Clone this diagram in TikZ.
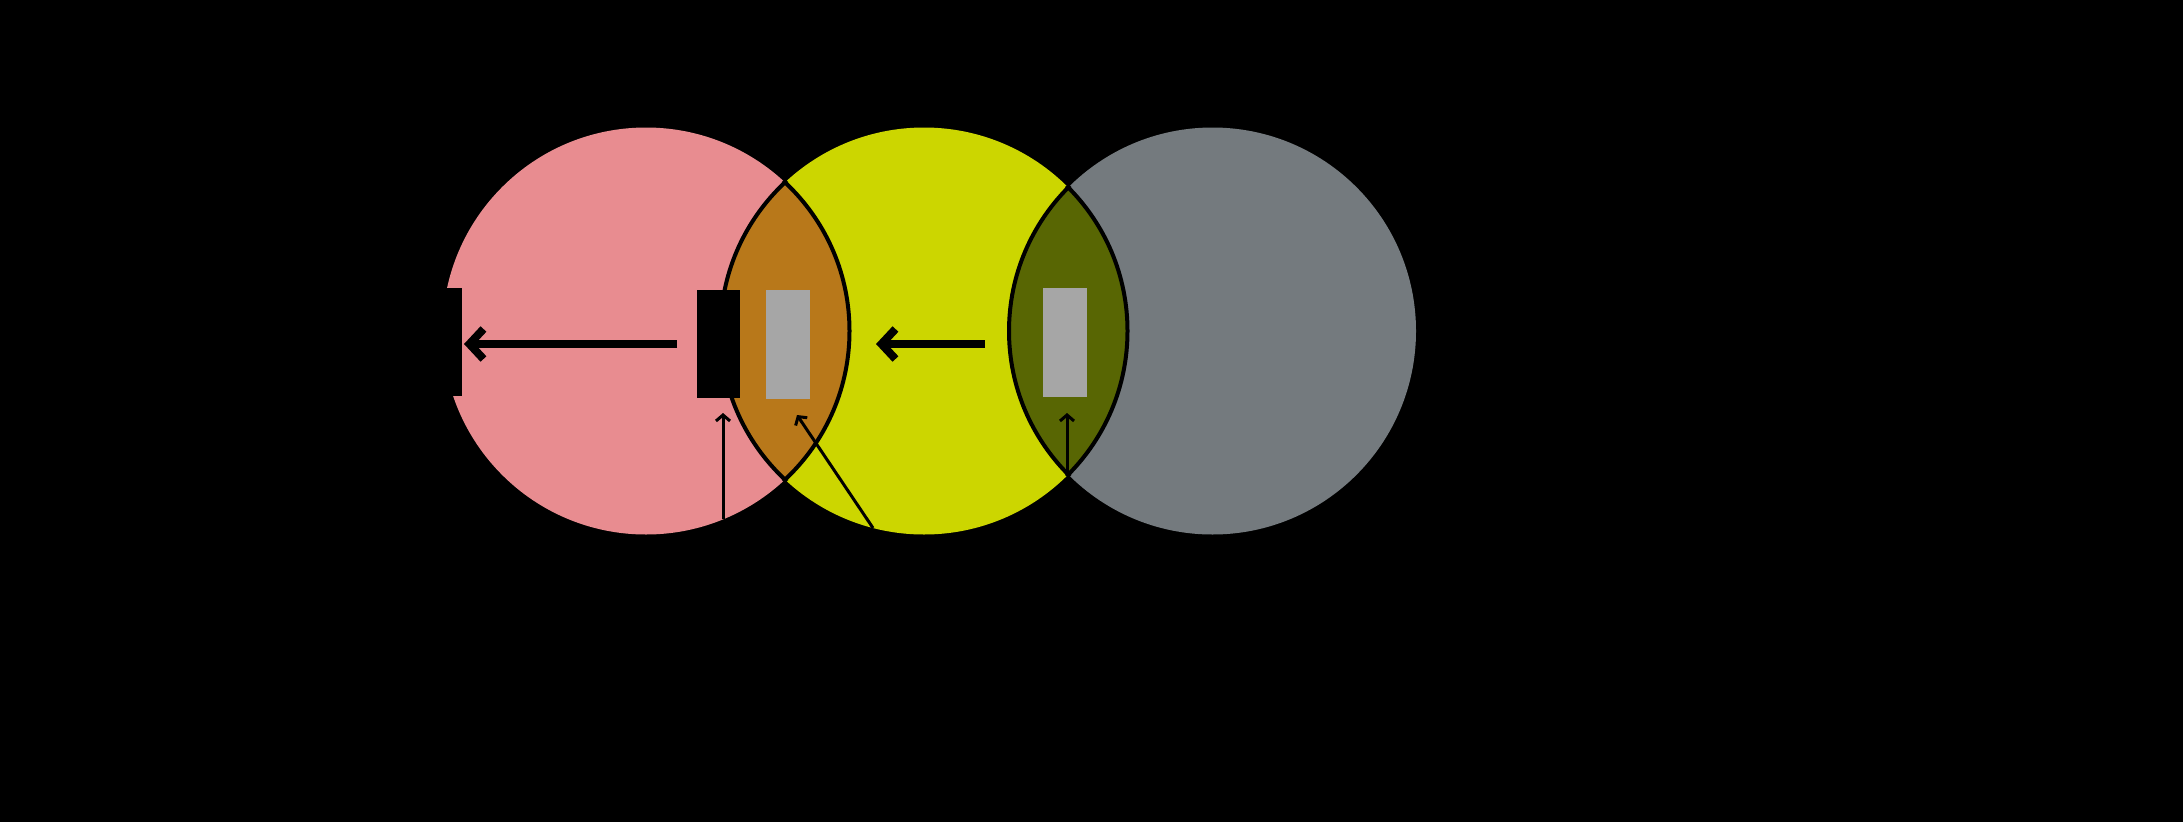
\documentclass[tikz,border=0pt]{standalone}
\usetikzlibrary{arrows.meta}
\definecolor{pinkc}{RGB}{232,140,144}
\definecolor{yellowc}{RGB}{204,214,0}
\definecolor{grayc}{RGB}{116,122,126}
\definecolor{lensA}{RGB}{184,120,26}
\definecolor{lensB}{RGB}{88,102,3}
\definecolor{boxgray}{RGB}{166,166,166}
\tikzset{
  blackbox/.style={rectangle, fill=black, inner sep=0pt, minimum width=43pt, minimum height=108pt},
  graybox/.style={rectangle, fill=boxgray, inner sep=0pt, minimum width=44pt, minimum height=109pt},
  bigarrow/.style={line width=8pt, -{Straight Barb[length=14pt,width=30pt]}},
  thinarrow/.style={line width=3pt, -{Straight Barb[length=6pt,width=14pt]}},
  lensline/.style={line width=4pt, black},
}
\begin{document}
\begin{tikzpicture}[x=1pt,y=-1pt]
\useasboundingbox (0,0) rectangle (2183,822);
\fill[black] (0,0) rectangle (2183,822);
% circles
\coordinate (cP) at (646,331);
\coordinate (cY) at (924,331);
\coordinate (cG) at (1212.5,331);
\fill[pinkc] (cP) circle[radius=203.5];
\fill[yellowc] (cY) circle[radius=203.5];
\fill[grayc] (cG) circle[radius=203.5];
% lens 1
\begin{scope}
  \clip (cP) circle[radius=203.5];
  \fill[lensA] (cY) circle[radius=203.5];
\end{scope}
\begin{scope}
  \clip (cP) circle[radius=206];
  \draw[lensline] (cY) circle[radius=203.5];
\end{scope}
\begin{scope}
  \clip (cY) circle[radius=206];
  \draw[lensline] (cP) circle[radius=203.5];
\end{scope}
% lens 2
\begin{scope}
  \clip (cY) circle[radius=203.5];
  \fill[lensB] (cG) circle[radius=203.5];
\end{scope}
\begin{scope}
  \clip (cY) circle[radius=206];
  \draw[lensline] (cG) circle[radius=203.5];
\end{scope}
\begin{scope}
  \clip (cG) circle[radius=206];
  \draw[lensline] (cY) circle[radius=203.5];
\end{scope}
% boxes
\node[blackbox] (rectL) at (440.5,342) {};
\node[blackbox] (rectM) at (718.5,344) {};
\node[graybox] (grayA) at (787.5,344.5) {};
\node[graybox] (grayB) at (1065,342.5) {};
% connector ends
\coordinate (b1s) at (677,344);
\coordinate (b1e) at (464,344);
\coordinate (b2s) at (985,344);
\coordinate (b2e) at (876,344);
\coordinate (a1s) at (723,519);
\coordinate (a1e) at (723,413);
\coordinate (a2s) at (873,528);
\coordinate (a2e) at (797,415);
\coordinate (a3s) at (1067,475);
\coordinate (a3e) at (1067,413);
% arrows
\draw[bigarrow] (b1s) -- (b1e);
\draw[bigarrow] (b2s) -- (b2e);
\draw[thinarrow] (a1s) -- (a1e);
\draw[thinarrow] (a2s) -- (a2e);
\draw[thinarrow] (a3s) -- (a3e);
\end{tikzpicture}
\end{document}
